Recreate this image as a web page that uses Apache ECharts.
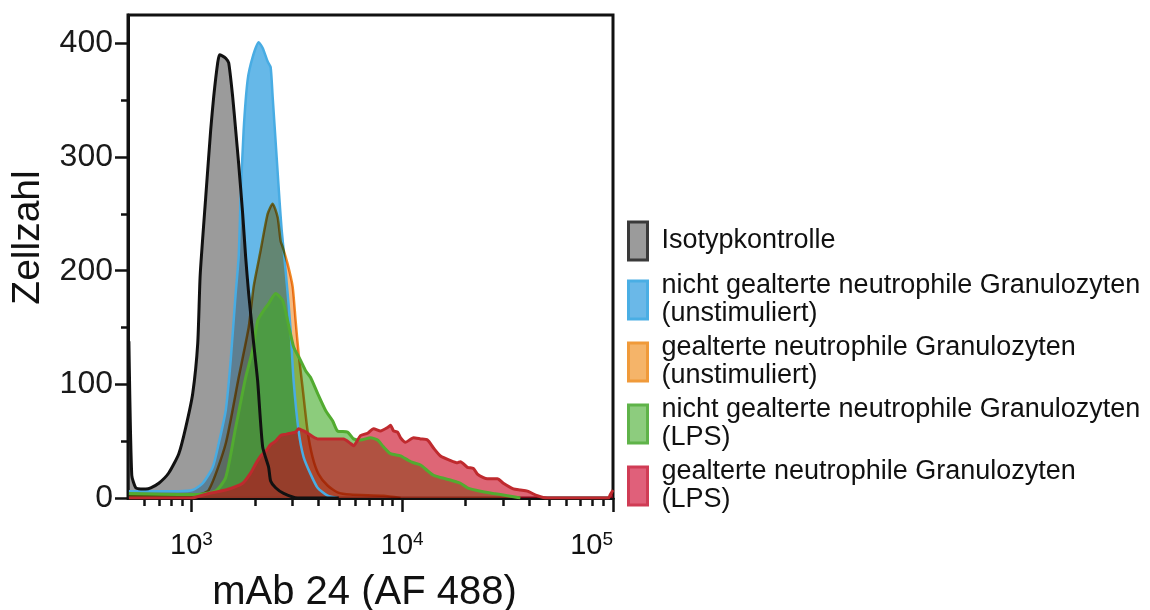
<!DOCTYPE html>
<html>
<head>
    <meta charset="utf-8"/>
    <style>
        html, body {
            margin: 0;
            padding: 0;
            background: #fff;
        }

        .container {
            width: 1150px;
            height: 610px;
        }
    </style>
</head>
<body>
<div id="main" class="container"></div>
<script src="https://cdn.jsdelivr.net/npm/echarts@6/dist/echarts.min.js"></script>
<script type="text/javascript">
// Histogramm-Daten (Fluoreszenz, Zellzahl)
var isoName = 'Isotypkontrolle';
var isoX = [505, 521, 544, 575, 607, 641, 700, 780, 871, 939, 1014, 1071, 1100, 1169, 1234, 1275, 1332, 1360, 1400, 1454, 1502, 1569, 1621, 1675, 1750, 1808, 1868, 1973, 2061, 2177, 2324, 2375, 2508, 2737, 3189, 5000];
var isoY = [138, 20, 9, 8, 8, 9, 13, 22, 39, 62, 92, 136, 196, 265, 324, 353, 383, 390, 389, 387, 383, 353, 324, 294, 250, 212, 180, 136, 103, 45, 27, 15, 9, 4, 0, 0];

var blueName = 'nicht gealterte neutrophile Granulozyten\n(unstimuliert)';
var blueX = [505, 641, 871, 1014, 1131, 1261, 1347, 1454, 1535, 1621, 1675, 1712, 1769, 1848, 1952, 2084, 2177, 2299, 2375, 2428, 2536, 2621, 2679, 2797, 2891, 2954, 3053, 3224, 3405, 3675, 3967, 4425, 4935];
var blueY = [6, 6, 6, 7, 13, 27, 48, 77, 121, 180, 212, 265, 324, 368, 388, 401, 396, 384, 379, 353, 300, 260, 236, 200, 170, 148, 103, 59, 36, 21, 9, 2, 0];

var orangeName = 'gealterte neutrophile Granulozyten\n(unstimuliert)';
var orangeX = [505, 1014, 1207, 1454, 1675, 1868, 1973, 2084, 2130, 2299, 2428, 2564, 2649, 2707, 2859, 3020, 3120, 3224, 3368, 3556, 3756, 4010, 4425, 4935, 5687, 8154, 9815];
var orangeY = [2, 2, 7, 48, 106, 150, 186, 209, 218, 250, 259, 247, 226, 221, 206, 186, 156, 127, 97, 59, 36, 21, 11, 5, 3, 2, 0];

var greenName = 'nicht gealterte neutrophile Granulozyten\n(LPS)';
var greenX = [505, 1014, 1300, 1454, 1621, 1808, 1950, 2061, 2200, 2324, 2508, 2707, 2859, 3053, 3295, 3480, 3675, 3967, 4329, 4673, 4935, 5504, 5876, 6344, 7075, 7637, 8154, 8800, 9815, 10711, 11311, 12209, 13176, 14068, 15185, 17499, 18888, 20388, 23497, 27082, 31548, 36352];
var greenY = [4, 3, 6, 18, 62, 106, 130, 156, 165, 171, 180, 174, 156, 133, 121, 112, 106, 92, 77, 68, 59, 58, 52, 51, 53, 51, 45, 39, 37, 33, 31, 29, 24, 20, 18, 15, 13, 9, 6, 4, 2, 0];

var redName = 'gealterte neutrophile Granulozyten\n(LPS)';
var redX = [505, 1000, 1207, 1454, 1750, 1909, 2016, 2130, 2249, 2375, 2508, 2649, 2797, 2954, 3120, 3224, 3405, 3556, 3967, 4572, 5099, 5269, 5687, 5876, 6344, 6847, 7311, 7891, 8517, 8800, 9093, 9499, 9815, 10366, 11311, 12209, 13176, 14068, 15185, 16936, 18279, 18888, 20388, 21768, 22740, 24275, 25359, 28289, 30195, 33674, 36352, 39249, 43782, 48814, 95000, 97100, 100000];
var redY = [0, 0, 4, 7, 13, 22, 30, 37, 41, 47, 50, 55, 56, 57, 58, 61, 59, 57, 52, 52, 52, 52, 48, 46, 55, 57, 61, 59, 62, 64, 59, 58, 53, 49, 53, 52, 51, 44, 37, 33, 31, 32, 27, 26, 21, 18, 17, 17, 13, 8, 7, 6, 2, 0, 0, 3, 7];

// Achsen
var xMajor = [1000, 10000, 100000];
var xMinor = [600, 700, 800, 900, 2000, 3000, 4000, 5000, 6000, 7000, 8000, 9000, 20000, 30000, 40000, 50000, 60000, 70000, 80000, 90000];
var yMajor = [0, 100, 200, 300, 400];
var yMinor = [50, 150, 250, 350];

var font = 'Liberation Sans, Arial, Helvetica, sans-serif';
var axisColor = '#111';

function pairs(xs, ys) {
    return xs.map(function (x, i) {
        return [x, ys[i]];
    });
}

function areaSeries(name, xs, ys, color, opacity, blend) {
    return {
        name: name,
        type: 'line',
        data: pairs(xs, ys),
        symbol: 'none',
        smooth: 0.2,
        silent: true,
        blendMode: blend || 'source-over',
        lineStyle: {opacity: 0},
        areaStyle: {color: color, opacity: opacity}
    };
}

function lineSeries(name, xs, ys, color, width, blend) {
    return {
        name: name,
        type: 'line',
        data: pairs(xs, ys),
        symbol: 'none',
        smooth: 0.2,
        silent: true,
        blendMode: blend || 'source-over',
        lineStyle: {color: color, width: width}
    };
}

var myChart = echarts.init(document.getElementById('main'));

var option = {
    backgroundColor: '#fff',
    animation: false,
    grid: {
        left: 128,
        right: 537,
        top: 15,
        bottom: 112,
        outerBoundsMode: 'none',
        containLabel: false,
        show: true,
        borderColor: axisColor,
        borderWidth: 3
    },
    legend: {
        orient: 'vertical',
        left: 627,
        top: 216,
        padding: 0,
        itemWidth: 19,
        itemHeight: 38,
        itemGap: 6,
        icon: 'rect',
        selectedMode: false,
        textStyle: {
            fontFamily: font,
            fontSize: 27,
            lineHeight: 28,
            color: '#111',
            padding: [0, 0, 0, 9]
        },
        data: [
            {name: isoName, itemStyle: {color: '#9b9b9b', borderColor: '#3a3a3a', borderWidth: 3},
                textStyle: {padding: [11, 0, 11, 9]}},
            {name: blueName, itemStyle: {color: '#6ab8e8', borderColor: '#4aaee4', borderWidth: 3}},
            {name: orangeName, itemStyle: {color: '#f5b469', borderColor: '#f09a3a', borderWidth: 3}},
            {name: greenName, itemStyle: {color: '#8dcc7e', borderColor: '#5fb349', borderWidth: 3}},
            {name: redName, itemStyle: {color: '#e0607a', borderColor: '#d03c55', borderWidth: 3}}
        ]
    },
    xAxis: [
        {
            type: 'log',
            logBase: 10,
            min: 500,
            max: 100000,
            position: 'bottom',
            name: 'mAb 24 (AF 488)',
            nameLocation: 'middle',
            nameGap: 75,
            nameTextStyle: {fontFamily: font, fontSize: 40, color: '#111', padding: [0, 12, 0, 0]},
            axisLine: {lineStyle: {color: axisColor, width: 3}},
            axisTick: {length: 14, customValues: xMajor, lineStyle: {color: axisColor, width: 2.5}},
            axisLabel: {
                customValues: xMajor,
                margin: 32,
                alignMaxLabel: 'right',
                formatter: function (v) {
                    var e = Math.round(Math.log(v) / Math.LN10);
                    return '{b|10}{s|' + e + '}';
                },
                rich: {
                    b: {fontFamily: font, fontSize: 29, color: '#111'},
                    s: {fontFamily: font, fontSize: 19, color: '#111', padding: [0, 0, 13, 0]}
                }
            },
            splitLine: {show: false}
        },
        {
            type: 'log',
            logBase: 10,
            min: 500,
            max: 100000,
            position: 'bottom',
            axisLine: {show: false},
            axisTick: {length: 8, customValues: xMinor, lineStyle: {color: axisColor, width: 2.5}},
            axisLabel: {show: false},
            splitLine: {show: false}
        }
    ],
    yAxis: [
        {
            type: 'value',
            min: 0,
            max: 425,
            position: 'left',
            name: 'Zellzahl',
            nameLocation: 'middle',
            nameGap: 80,
            nameTextStyle: {fontFamily: font, fontSize: 39, color: '#111', padding: [0, 0, 0, 38]},
            axisLine: {show: true, lineStyle: {color: axisColor, width: 3}},
            axisTick: {show: true, length: 13, customValues: yMajor, lineStyle: {color: axisColor, width: 2.5}},
            axisLabel: {customValues: yMajor, margin: 15, fontFamily: font, fontSize: 32, color: '#1a1a1a'},
            splitLine: {show: false}
        },
        {
            type: 'value',
            min: 0,
            max: 425,
            position: 'left',
            axisLine: {show: false},
            axisTick: {show: true, length: 7, customValues: yMinor, lineStyle: {color: axisColor, width: 2.5}},
            axisLabel: {show: false},
            splitLine: {show: false}
        }
    ],
    series: [
        areaSeries(blueName, blueX, blueY, 'rgb(0,137,217)', 0.6),
        lineSeries(blueName, blueX, blueY, '#48ace3', 2.5),
        areaSeries(orangeName, orangeX, orangeY, 'rgb(246,186,126)', 1, 'multiply'),
        lineSeries(orangeName, orangeX, orangeY, '#f08c28', 2.5, 'multiply'),
        areaSeries(isoName, isoX, isoY, 'rgb(88,88,88)', 0.6),
        areaSeries(greenName, greenX, greenY, 'rgb(63,170,37)', 0.6),
        areaSeries(redName, redX, redY, 'rgb(200,0,27)', 0.6),
        lineSeries(greenName, greenX, greenY, '#52ab30', 3),
        lineSeries(redName, redX, redY, '#bf2a2e', 3),
        lineSeries(isoName, isoX, isoY, '#111111', 3)
    ]
};

myChart.setOption(option);
</script>
</body>
</html>
